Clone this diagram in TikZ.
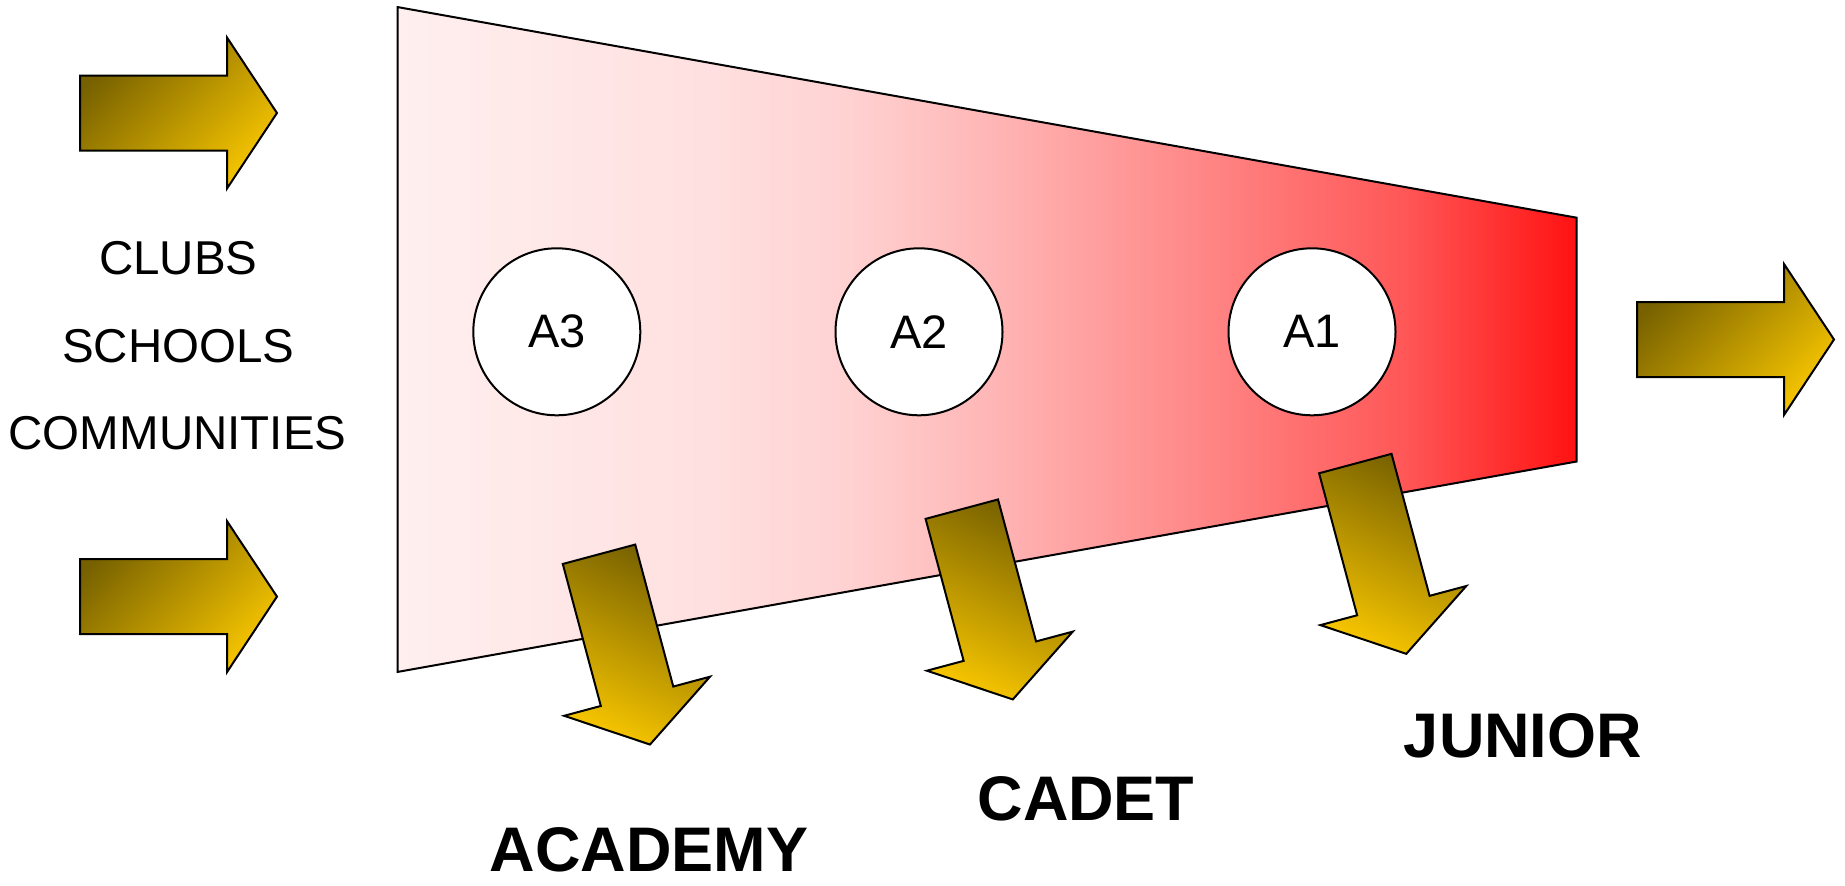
\documentclass[tikz,border=0pt]{standalone}
\usepackage{fontspec}
\setmainfont{Liberation Sans}
\definecolor{arrdark}{RGB}{118,96,0}
\definecolor{arrgold}{RGB}{245,196,0}
\definecolor{tpa}{RGB}{255,239,239}
\definecolor{tpb}{RGB}{255,224,224}
\definecolor{tpc}{RGB}{255,210,210}
\definecolor{tpd}{RGB}{255,180,180}
\definecolor{tpe}{RGB}{255,135,135}
\definecolor{tpf}{RGB}{255,88,88}
\definecolor{tpg}{RGB}{255,18,18}
\pgfdeclarehorizontalshading{funnelshade}{100bp}{color(0bp)=(tpa); color(25bp)=(tpa); color(38bp)=(tpb); color(44bp)=(tpc); color(50.5bp)=(tpd); color(59bp)=(tpe); color(67.5bp)=(tpf); color(75bp)=(tpg); color(100bp)=(tpg)}
\tikzset{
  arrowbody/.style={draw=black, line width=2pt, top color=arrdark, bottom color=arrgold},
  ringnode/.style={circle, draw=black, line width=2pt, fill=white, minimum size=167pt, inner sep=0pt, font=\fontsize{47}{50}\selectfont},
  sidetext/.style={inner sep=0pt, font=\fontsize{47.5}{50}\selectfont},
  levtext/.style={inner sep=0pt, font=\fontsize{63}{70}\selectfont\bfseries}
}
\newcommand{\goldarrowshape}[3]{%
  \begin{scope}[shift={(#1)}, rotate=#2]
    \shadedraw[arrowbody, shading angle=#3]
      (-98.5,-37.5) -- (48.5,-37.5) -- (48.5,-75.5) -- (98.5,0) -- (48.5,75.5) -- (48.5,37.5) -- (-98.5,37.5) -- cycle;
  \end{scope}}
\begin{document}
\begin{tikzpicture}[x=1pt, y=-1pt]
\useasboundingbox (0,0) rectangle (1845,886);
% funnel
\coordinate (ftl) at (397.7,7.1);
\coordinate (ftr) at (1576.7,217.7);
\coordinate (fbr) at (1576.7,461.5);
\coordinate (fbl) at (397.7,671.9);
\shadedraw[shading=funnelshade, draw=black, line width=2pt] (ftl) -- (ftr) -- (fbr) -- (fbl) -- cycle;
% circles
\node[ringnode] (a3) at (556.8,331.8) {A3};
\node[ringnode] (a2) at (919,331.8) {A2};
\node[ringnode] (a1) at (1312,331.8) {A1};
% input/output arrows
\goldarrowshape{178.5,113}{0}{45}
\goldarrowshape{178.5,596.6}{0}{45}
\goldarrowshape{1735.5,339.5}{0}{45}
% exit arrows
\goldarrowshape{624.5,649.4}{-75}{-25}
\goldarrowshape{987.3,604.3}{-75}{-25}
\goldarrowshape{1380.8,558.7}{-75}{-25}
% texts
\node[sidetext] (clubs) at (178.3,258.3) {CLUBS};
\node[sidetext] (schools) at (178.3,345.8) {SCHOOLS};
\node[sidetext] (comm) at (177.5,433.3) {COMMUNITIES};
\node[levtext] (academy) at (649,850) {ACADEMY};
\node[levtext] (cadet) at (1086,798.4) {CADET};
\node[levtext] (junior) at (1523,736) {JUNIOR};
\end{tikzpicture}
\end{document}
